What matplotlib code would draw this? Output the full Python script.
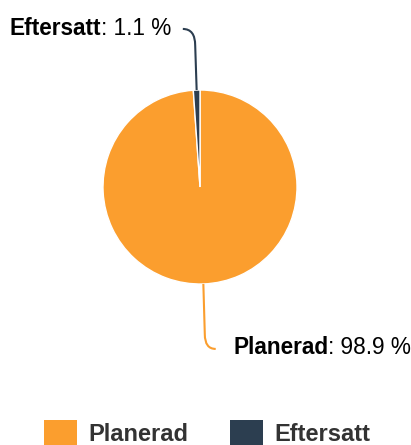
import numpy as np
import matplotlib
matplotlib.use("Agg")
import matplotlib.pyplot as plt
from matplotlib.path import Path
from matplotlib.patches import PathPatch, Rectangle

plt.rcParams["font.family"] = ["Liberation Sans", "DejaVu Sans"]

labels = ["Planerad", "Eftersatt"]
values = [98.9, 1.1]
colors = ["#fb9e2e", "#2c3e50"]

W, H, DPI = 411, 445, 100
CX, CY, R = 200, 187, 97  # pie centre / radius in pixels

fig = plt.figure(figsize=(W / DPI, H / DPI), dpi=DPI)
ax = fig.add_axes([0, 0, 1, 1])

wedges, _ = ax.pie(values, colors=colors, startangle=90, counterclock=False,
                   radius=1, center=(0, 0), frame=True,
                   wedgeprops=dict(edgecolor="white", linewidth=1))
ax.set_xlim(-CX / R, (W - CX) / R)
ax.set_ylim(-(H - CY) / R, CY / R)
ax.set_aspect("auto")
ax.axis("off")

# connector geometry (data units) per slice: vertical run, then bend sideways
conn = {"Planerad": dict(run=0.52, bend=0.15, side=1, gap=0.18, dy=0.01),
        "Eftersatt": dict(run=0.46, bend=0.17, side=-1, gap=0.12, dy=0.0)}
FS = 16.3

fig.canvas.draw()
rend = fig.canvas.get_renderer()
for w, lab, val, col in zip(wedges, labels, values, colors):
    ang = np.deg2rad((w.theta1 + w.theta2) / 2)
    x0, y0 = np.cos(ang), np.sin(ang)
    c = conn[lab]
    up = 1 if y0 > 0 else -1
    x1, y1 = x0 + 0.015 * c["side"], y0 + up * c["run"]
    yk = y1 + up * c["bend"]
    xe = x1 + c["side"] * c["bend"] * 0.75
    verts = [(x0, y0), (x1, y1), (x1, yk), (xe, yk)]
    codes = [Path.MOVETO, Path.LINETO, Path.CURVE3, Path.CURVE3]
    ax.add_patch(PathPatch(Path(verts, codes), fc="none", ec=col, lw=1.5))
    tx = xe + c["side"] * c["gap"]
    ty = yk + c["dy"]
    if c["side"] > 0:
        t1 = ax.text(tx, ty, lab, fontsize=FS, fontweight="bold", ha="left",
                     va="center", color="black")
        bb = t1.get_window_extent(rend).transformed(ax.transData.inverted())
        ax.text(bb.x1, ty, f": {val} %", fontsize=FS, ha="left", va="center",
                color="black")
    else:
        t2 = ax.text(tx, ty, f": {val} %", fontsize=FS, ha="right",
                     va="center", color="black")
        bb = t2.get_window_extent(rend).transformed(ax.transData.inverted())
        ax.text(bb.x0, ty, lab, fontsize=FS, fontweight="bold", ha="right",
                va="center", color="black")

# legend along the bottom edge (squares run off the figure)
leg_x = [44, 230]
for lx, lab, col in zip(leg_x, labels, colors):
    fig.patches.append(Rectangle((lx / W, -10 / H), 33 / W, 35 / H,
                                 transform=fig.transFigure, fc=col, ec="none"))
    fig.text((lx + 44) / W, 4 / H, lab, fontsize=17, fontweight="bold",
             color="#333333", ha="left", va="baseline")

fig.savefig("out.png", dpi=DPI)
